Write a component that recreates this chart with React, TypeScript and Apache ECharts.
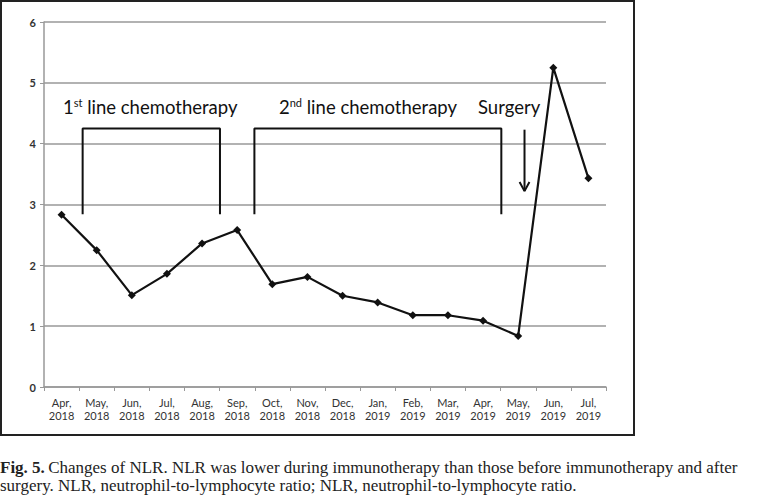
import React, { useEffect, useRef } from "react";
import * as echarts from "echarts";

const categories = [
  "Apr,\n2018", "May,\n2018", "Jun,\n2018", "Jul,\n2018", "Aug,\n2018", "Sep,\n2018",
  "Oct,\n2018", "Nov,\n2018", "Dec,\n2018", "Jan,\n2019", "Feb,\n2019", "Mar,\n2019",
  "Apr,\n2019", "May,\n2019", "Jun,\n2019", "Jul,\n2019",
];
const nlrValues = [2.83, 2.25, 1.51, 1.86, 2.36, 2.58, 1.69, 1.81, 1.5, 1.39, 1.18, 1.18, 1.09, 0.84, 5.25, 3.43];
const yTicks = [0, 1, 2, 3, 4, 5, 6];

// bracket annotations on a hidden value x-axis (category index units)
const bracket1 = [[0.6, 2.84], [0.6, 4.25], [4.51, 4.25], [4.51, 2.84]];
const bracket2 = [[5.49, 2.84], [5.49, 4.25], [12.52, 4.25], [12.52, 2.84]];
const arrowShaft = [[13.18, 4.23], [13.18, 3.22]];
const arrowHead = [[13.04, 3.37], [13.18, 3.22], [13.32, 3.37]];

const captionLine1 = "Changes of NLR. NLR was lower during immunotherapy than those before immunotherapy and after";
const captionLine2 = "surgery. NLR, neutrophil-to-lymphocyte ratio; NLR, neutrophil-to-lymphocyte ratio.";

export default function App() {
  const ref = useRef<HTMLDivElement>(null);
  useEffect(() => {
    document.body.style.margin = "0";
    const chart = echarts.init(ref.current!, null, { renderer: "svg" });
    const font = "Lato, 'Open Sans', sans-serif";
    const capFont = "'Liberation Serif', serif";
    const annot = (data: number[][]) => ({
      type: "line",
      xAxisIndex: 1,
      data,
      symbol: "none",
      silent: true,
      lineStyle: { color: "#111", width: 2 },
      z: 3,
    });
    chart.setOption({
      animation: false,
      backgroundColor: "#fff",
      grid: { left: 44, right: 155, top: 22, bottom: 111 },
      xAxis: [
        {
          type: "category",
          data: categories,
          boundaryGap: true,
          axisLine: { lineStyle: { color: "#999", width: 1.5 } },
          axisTick: { show: true, length: 4, lineStyle: { color: "#999" } },
          axisLabel: { color: "#333", fontSize: 11, fontFamily: font, lineHeight: 13, margin: 9, interval: 0 },
        },
        { type: "value", min: -0.5, max: 15.5, show: false },
      ],
      yAxis: {
        type: "value",
        min: yTicks[0],
        max: yTicks[yTicks.length - 1],
        interval: 1,
        axisLine: { show: true, onZero: false, lineStyle: { color: "#999", width: 1.5 } },
        axisTick: { show: true, length: 4, lineStyle: { color: "#999" } },
        axisLabel: { color: "#333", fontSize: 11, fontWeight: "bold", fontFamily: font, margin: 8 },
        splitLine: { lineStyle: { color: "#999", width: 1.5 } },
      },
      series: [
        {
          type: "line",
          data: nlrValues,
          symbol: "diamond",
          symbolSize: 8,
          itemStyle: { color: "#111" },
          lineStyle: { color: "#111", width: 2.2 },
          z: 4,
        },
        annot(bracket1),
        annot(bracket2),
        annot(arrowShaft),
        annot(arrowHead),
      ],
      graphic: [
        {
          type: "rect",
          shape: { x: 1, y: 1, width: 633, height: 434 },
          style: { fill: "none", stroke: "#222", lineWidth: 2 },
          silent: true,
        },
        {
          type: "text",
          x: 63,
          y: 107,
          style: {
            text: "{n|1}{s|st}{n| line chemotherapy}",
            verticalAlign: "middle",
            rich: {
              n: { fontSize: 18.5, fontFamily: font, fill: "#111" },
              s: { fontSize: 11, fontFamily: font, fill: "#111", verticalAlign: "top", padding: [0, 0, 9, 0] },
            },
          },
        },
        {
          type: "text",
          x: 279,
          y: 107,
          style: {
            text: "{n|2}{s|nd}{n| line chemotherapy}",
            verticalAlign: "middle",
            rich: {
              n: { fontSize: 18.5, fontFamily: font, fill: "#111" },
              s: { fontSize: 11, fontFamily: font, fill: "#111", verticalAlign: "top", padding: [0, 0, 9, 0] },
            },
          },
        },
        {
          type: "text",
          x: 478,
          y: 107,
          style: { text: "Surgery", fontSize: 18.5, fontFamily: font, fill: "#111", verticalAlign: "middle" },
        },
        {
          type: "text",
          x: 0,
          y: 467,
          style: {
            text: "{b|Fig. 5.} {r|" + captionLine1 + "}",
            verticalAlign: "middle",
            rich: {
              b: { fontSize: 17, lineHeight: 17, fontWeight: "bold", fontFamily: capFont, fill: "#222" },
              r: { fontSize: 17, lineHeight: 17, fontFamily: capFont, fill: "#222" },
            },
          },
        },
        {
          type: "text",
          x: 0,
          y: 485,
          style: {
            text: captionLine2,
            verticalAlign: "middle",
            fontSize: 17,
            lineHeight: 17,
            fontFamily: capFont,
            fill: "#222",
          },
        },
      ],
    });
    return () => chart.dispose();
  }, []);
  return <div ref={ref} style={{ width: 761, height: 498, position: "absolute", left: 0, top: 0 }} />;
}
